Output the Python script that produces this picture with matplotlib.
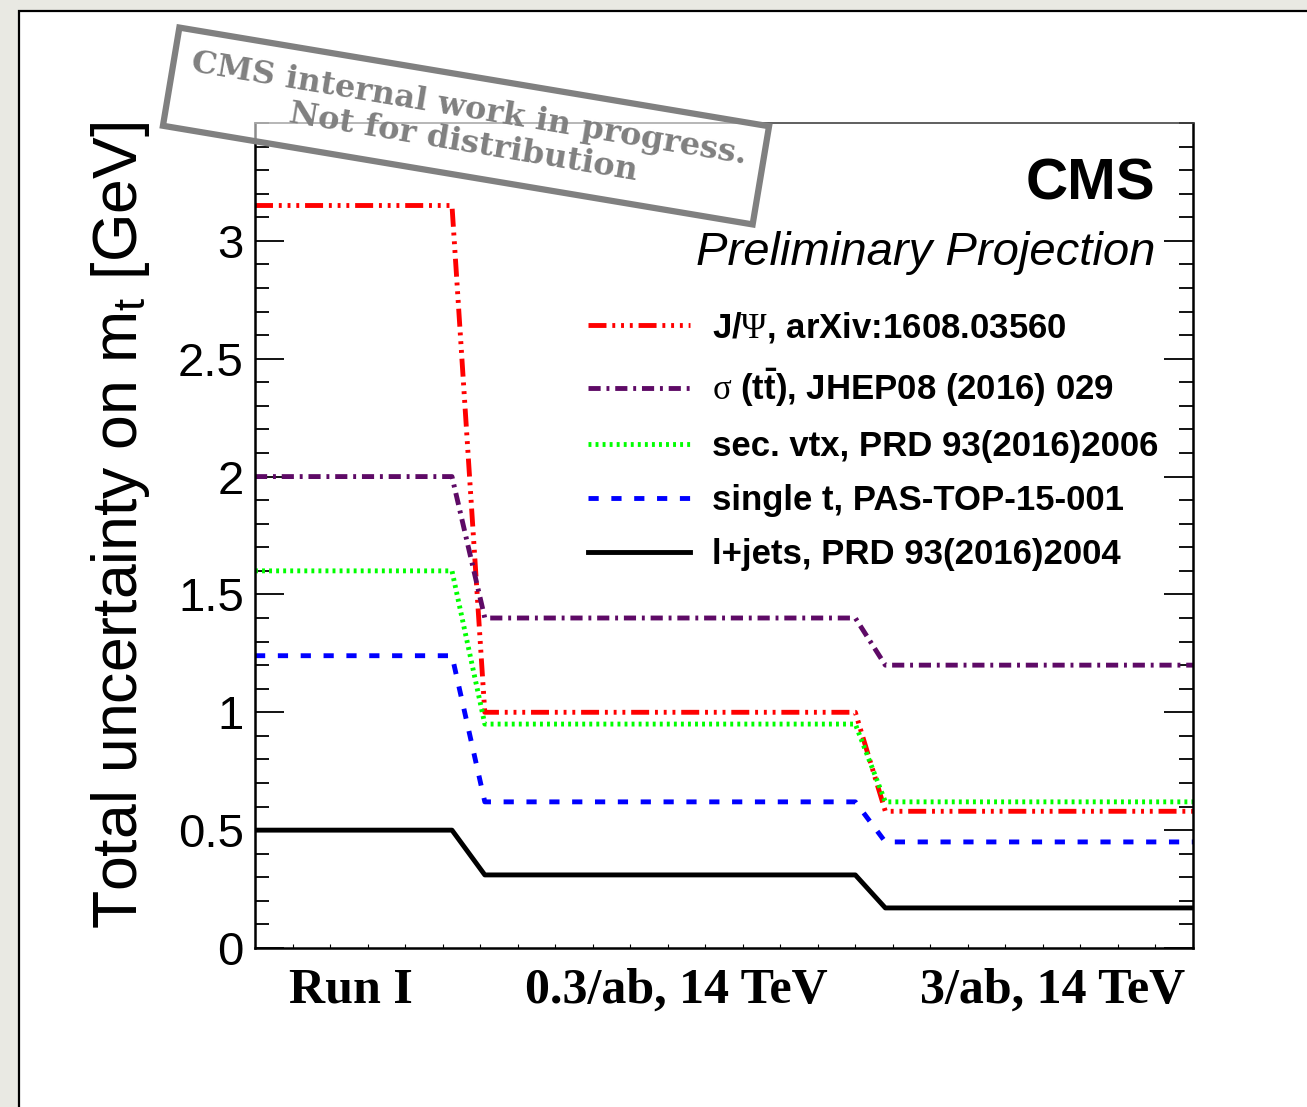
import matplotlib
matplotlib.use("Agg")
import matplotlib.pyplot as plt
from matplotlib.patches import Rectangle
from matplotlib.ticker import MultipleLocator


# x positions of the plateau ends (arbitrary axis units, 0..10)
STEP_X = [0.0, 2.1, 2.45, 6.4, 6.72, 10.0]
STAGE_LABELS = ["Run I", "0.3/ab, 14 TeV", "3/ab, 14 TeV"]
STAGE_LABEL_X = [1.02, 4.49, 8.5]

# total m_t uncertainty [GeV] for Run I, 0.3/ab, 3/ab
JPSI = [3.15, 1.00, 0.58]
XSEC = [2.00, 1.40, 1.20]
SECVTX = [1.60, 0.95, 0.62]
SINGLET = [1.24, 0.62, 0.45]
LJETS = [0.50, 0.31, 0.17]

SERIES = [
    (r"J/$\Psi$, arXiv:1608.03560", JPSI, "#ff0000", (0, (3.7, 1.2, 0.6, 1.2, 0.6, 1.2, 0.6, 1.2))),
    (r"$\mathrm{\sigma}$ ($\mathbf{t\bar{t}}$), JHEP08 (2016) 029", XSEC, "#5e0a66", (0, (2.5, 1.2, 0.6, 1.2))),
    ("sec. vtx, PRD 93(2016)2006", SECVTX, "#00ff00", (0, (0.6, 0.85))),
    ("single t, PAS-TOP-15-001", SINGLET, "#0000ff", (0, (2.1, 2.6))),
    ("l+jets, PRD 93(2016)2004", LJETS, "#000000", "-"),
]

plt.rcParams["font.family"] = ["Liberation Sans", "DejaVu Sans"]
plt.rcParams["mathtext.fontset"] = "custom"
plt.rcParams["mathtext.rm"] = "Liberation Serif"
plt.rcParams["mathtext.it"] = "Liberation Serif:italic"
plt.rcParams["mathtext.bf"] = "Liberation Sans:bold"
plt.rcParams["mathtext.sf"] = "Liberation Sans"

W, H = 1307, 1107
fig = plt.figure(figsize=(W / 100, H / 100), dpi=100, facecolor="#e9e9e3")

# slide panel
fig.patches.append(Rectangle((19 / W, -0.05), 1.1, 1 - 11 / H + 0.05, transform=fig.transFigure,
                             facecolor="white", edgecolor="black", lw=1.6, zorder=-10))

ax = fig.add_axes([255 / W, 1 - 948 / H, (1193 - 255) / W, (948 - 123) / H])
ax.set_facecolor("none")

for label, vals, color, ls in SERIES:
    ys = [vals[0], vals[0], vals[1], vals[1], vals[2], vals[2]]
    ax.plot(STEP_X, ys, color=color, lw=3.5, linestyle=ls, label=label, solid_joinstyle="round")

ax.set_xlim(0, 10)
ax.set_ylim(0, 3.5)

ax.yaxis.set_minor_locator(MultipleLocator(0.1))
ax.set_yticks([0, 0.5, 1, 1.5, 2, 2.5, 3])
ax.set_yticklabels(["0", "0.5", "1", "1.5", "2", "2.5", "3"])
ax.tick_params(axis="y", which="both", direction="in", left=True, right=True, width=1.3, labelsize=34, pad=8)
ax.tick_params(axis="y", which="major", length=21)
ax.tick_params(axis="y", which="minor", length=10)

ax.set_xticks(STAGE_LABEL_X)
ax.set_xticklabels(STAGE_LABELS, fontfamily="Liberation Serif", fontweight="bold", fontsize=36)
ax.xaxis.set_minor_locator(MultipleLocator(0.4))
ax.tick_params(axis="x", which="major", length=0, pad=14)
ax.tick_params(axis="x", which="minor", direction="in", length=3, width=0.8, bottom=True, top=False)

for side in ["left", "right", "bottom"]:
    ax.spines[side].set_linewidth(1.8)
ax.spines["top"].set_linewidth(1.2)
ax.spines["top"].set_color("#444444")

fig.text(121 / W, 1 - 525 / H, r"Total uncertainty on m$_{\mathsf{t}}$ [GeV]", rotation=90,
         ha="center", va="center", fontsize=45)

ax.text(0.9595, 0.9067, "CMS", transform=ax.transAxes, ha="right", va="baseline",
        fontsize=42, fontweight="bold")
ax.text(0.9595, 0.828, "Preliminary Projection", transform=ax.transAxes, ha="right", va="baseline",
        fontsize=34, fontstyle="italic")

leg = ax.legend(loc="upper left", bbox_to_anchor=(588 / W, 1 - 310 / H), bbox_transform=fig.transFigure,
                frameon=False, borderpad=0, borderaxespad=0, handlelength=2.95, handletextpad=0.63,
                labelspacing=0.61, prop={"family": "Liberation Sans", "weight": "bold", "size": 25})

fig.text(466 / W, 1 - 126 / H, "CMS internal work in progress.\nNot for distribution",
         rotation=-9.5, rotation_mode="anchor", ha="center", va="center", multialignment="center",
         fontsize=23, fontweight="bold", fontfamily="DejaVu Serif", color="#808080", linespacing=1.1,
         bbox=dict(boxstyle="square,pad=0.55", facecolor=(1, 1, 1, 0.55), edgecolor="#808080", lw=4.5),
         zorder=5)

fig.savefig("out.png", dpi=100, facecolor=fig.get_facecolor())
